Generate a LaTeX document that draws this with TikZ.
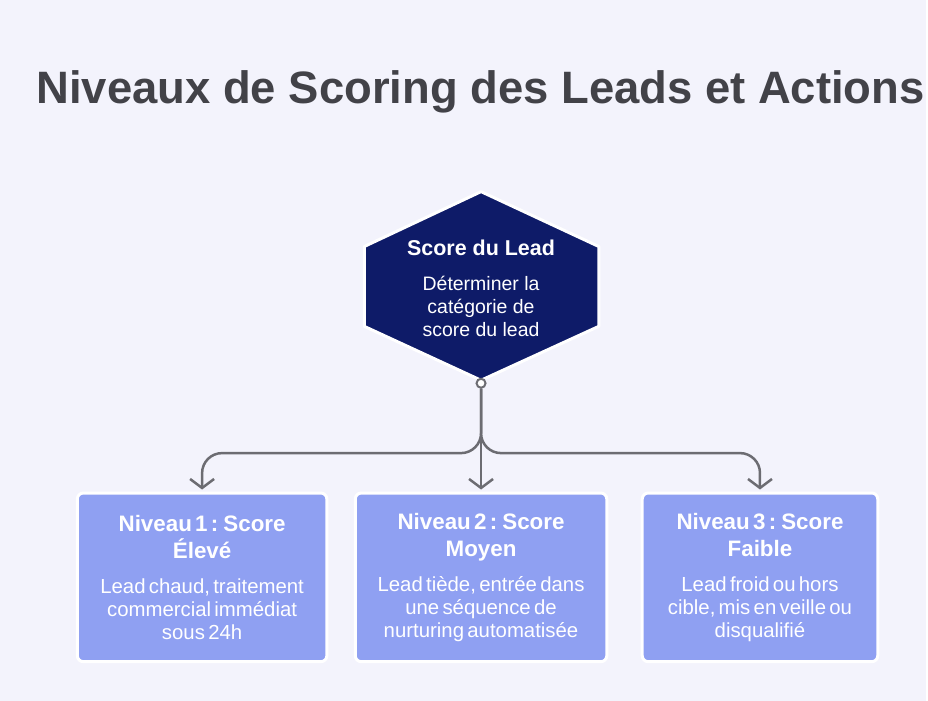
\documentclass[tikz,border=0pt]{standalone}
\usepackage{fontspec}
\setmainfont{Liberation Sans}
\usetikzlibrary{arrows.meta, positioning}
\definecolor{pagebg}{RGB}{243,243,252}
\definecolor{titlegray}{RGB}{66,66,72}
\definecolor{hexnavy}{RGB}{14,27,104}
\definecolor{levelblue}{RGB}{143,160,242}
\definecolor{linegray}{RGB}{108,108,114}
\tikzstyle{heading} = [font=\fontsize{45.5}{52}\selectfont\bfseries, text=titlegray]
\tikzstyle{hexshape} = [fill=hexnavy, draw=white, line width=3pt, line join=round]
\tikzstyle{hextext} = [text=white, align=center, font=\fontsize{19.5}{23}\selectfont]
\tikzstyle{joint} = [circle, draw=linegray, fill=white, line width=2pt, inner sep=0pt, minimum size=9pt]
\tikzstyle{level} = [rectangle, rounded corners=6pt, fill=levelblue, draw=white, line width=3pt, text=white, align=center, minimum height=169pt, inner sep=4pt]
\tikzstyle{arrow} = [line width=2.5pt, draw=linegray, shorten >=2pt, -{Straight Barb[length=9pt, width=24pt, line width=2.5pt]}]

\begin{document}
\begin{tikzpicture}[x=1pt, y=-1pt, node distance=279.5pt]

\fill [pagebg] (0,0) rectangle (928,702);

\node (title) [heading] at (481.5,92) {Niveaux de Scoring des Leads et Actions};

% score hexagon
\filldraw [hexshape] (482,192) -- (600,247) -- (600,327) -- (482,381) -- (365,327) -- (365,247) -- cycle;
\node (lead) [hextext] at (482,289) {{\fontsize{21.5}{26}\selectfont\bfseries Score du Lead}\\[12pt]Déterminer la\\catégorie de\\score du lead};
\node (dot) [joint] at (482,384) {};

% levels
\node (lvlone) [level, text width=242pt] at (202.5,578.5) {\fontsize{22.4}{27}\selectfont\bfseries Niveau 1 : Score\\Élevé\par\vspace{12pt}\fontsize{20.4}{23}\selectfont\mdseries Lead chaud, traitement\\commercial immédiat\\sous 24h\par};
\node (lvltwo) [level, text width=244pt, right of=lvlone] {\fontsize{22.4}{27}\selectfont\bfseries Niveau 2 : Score\\Moyen\par\vspace{12pt}\fontsize{20.4}{23}\selectfont\mdseries Lead tiède, entrée dans\\une séquence de\\nurturing automatisée\par};
\node (lvlthree) [level, text width=228pt, right of=lvltwo] {\fontsize{22.4}{27}\selectfont\bfseries Niveau 3 : Score\\Faible\par\vspace{12pt}\fontsize{20.4}{23}\selectfont\mdseries Lead froid ou hors\\cible, mis en veille ou\\disqualifié\par};

\draw [arrow] (dot) -- (lvltwo);
\draw [arrow, rounded corners=20pt] (dot) -- ++(0,70) -| (lvlone);
\draw [arrow, rounded corners=20pt] (dot) -- ++(0,70) -| (lvlthree);

\end{tikzpicture}
\end{document}
